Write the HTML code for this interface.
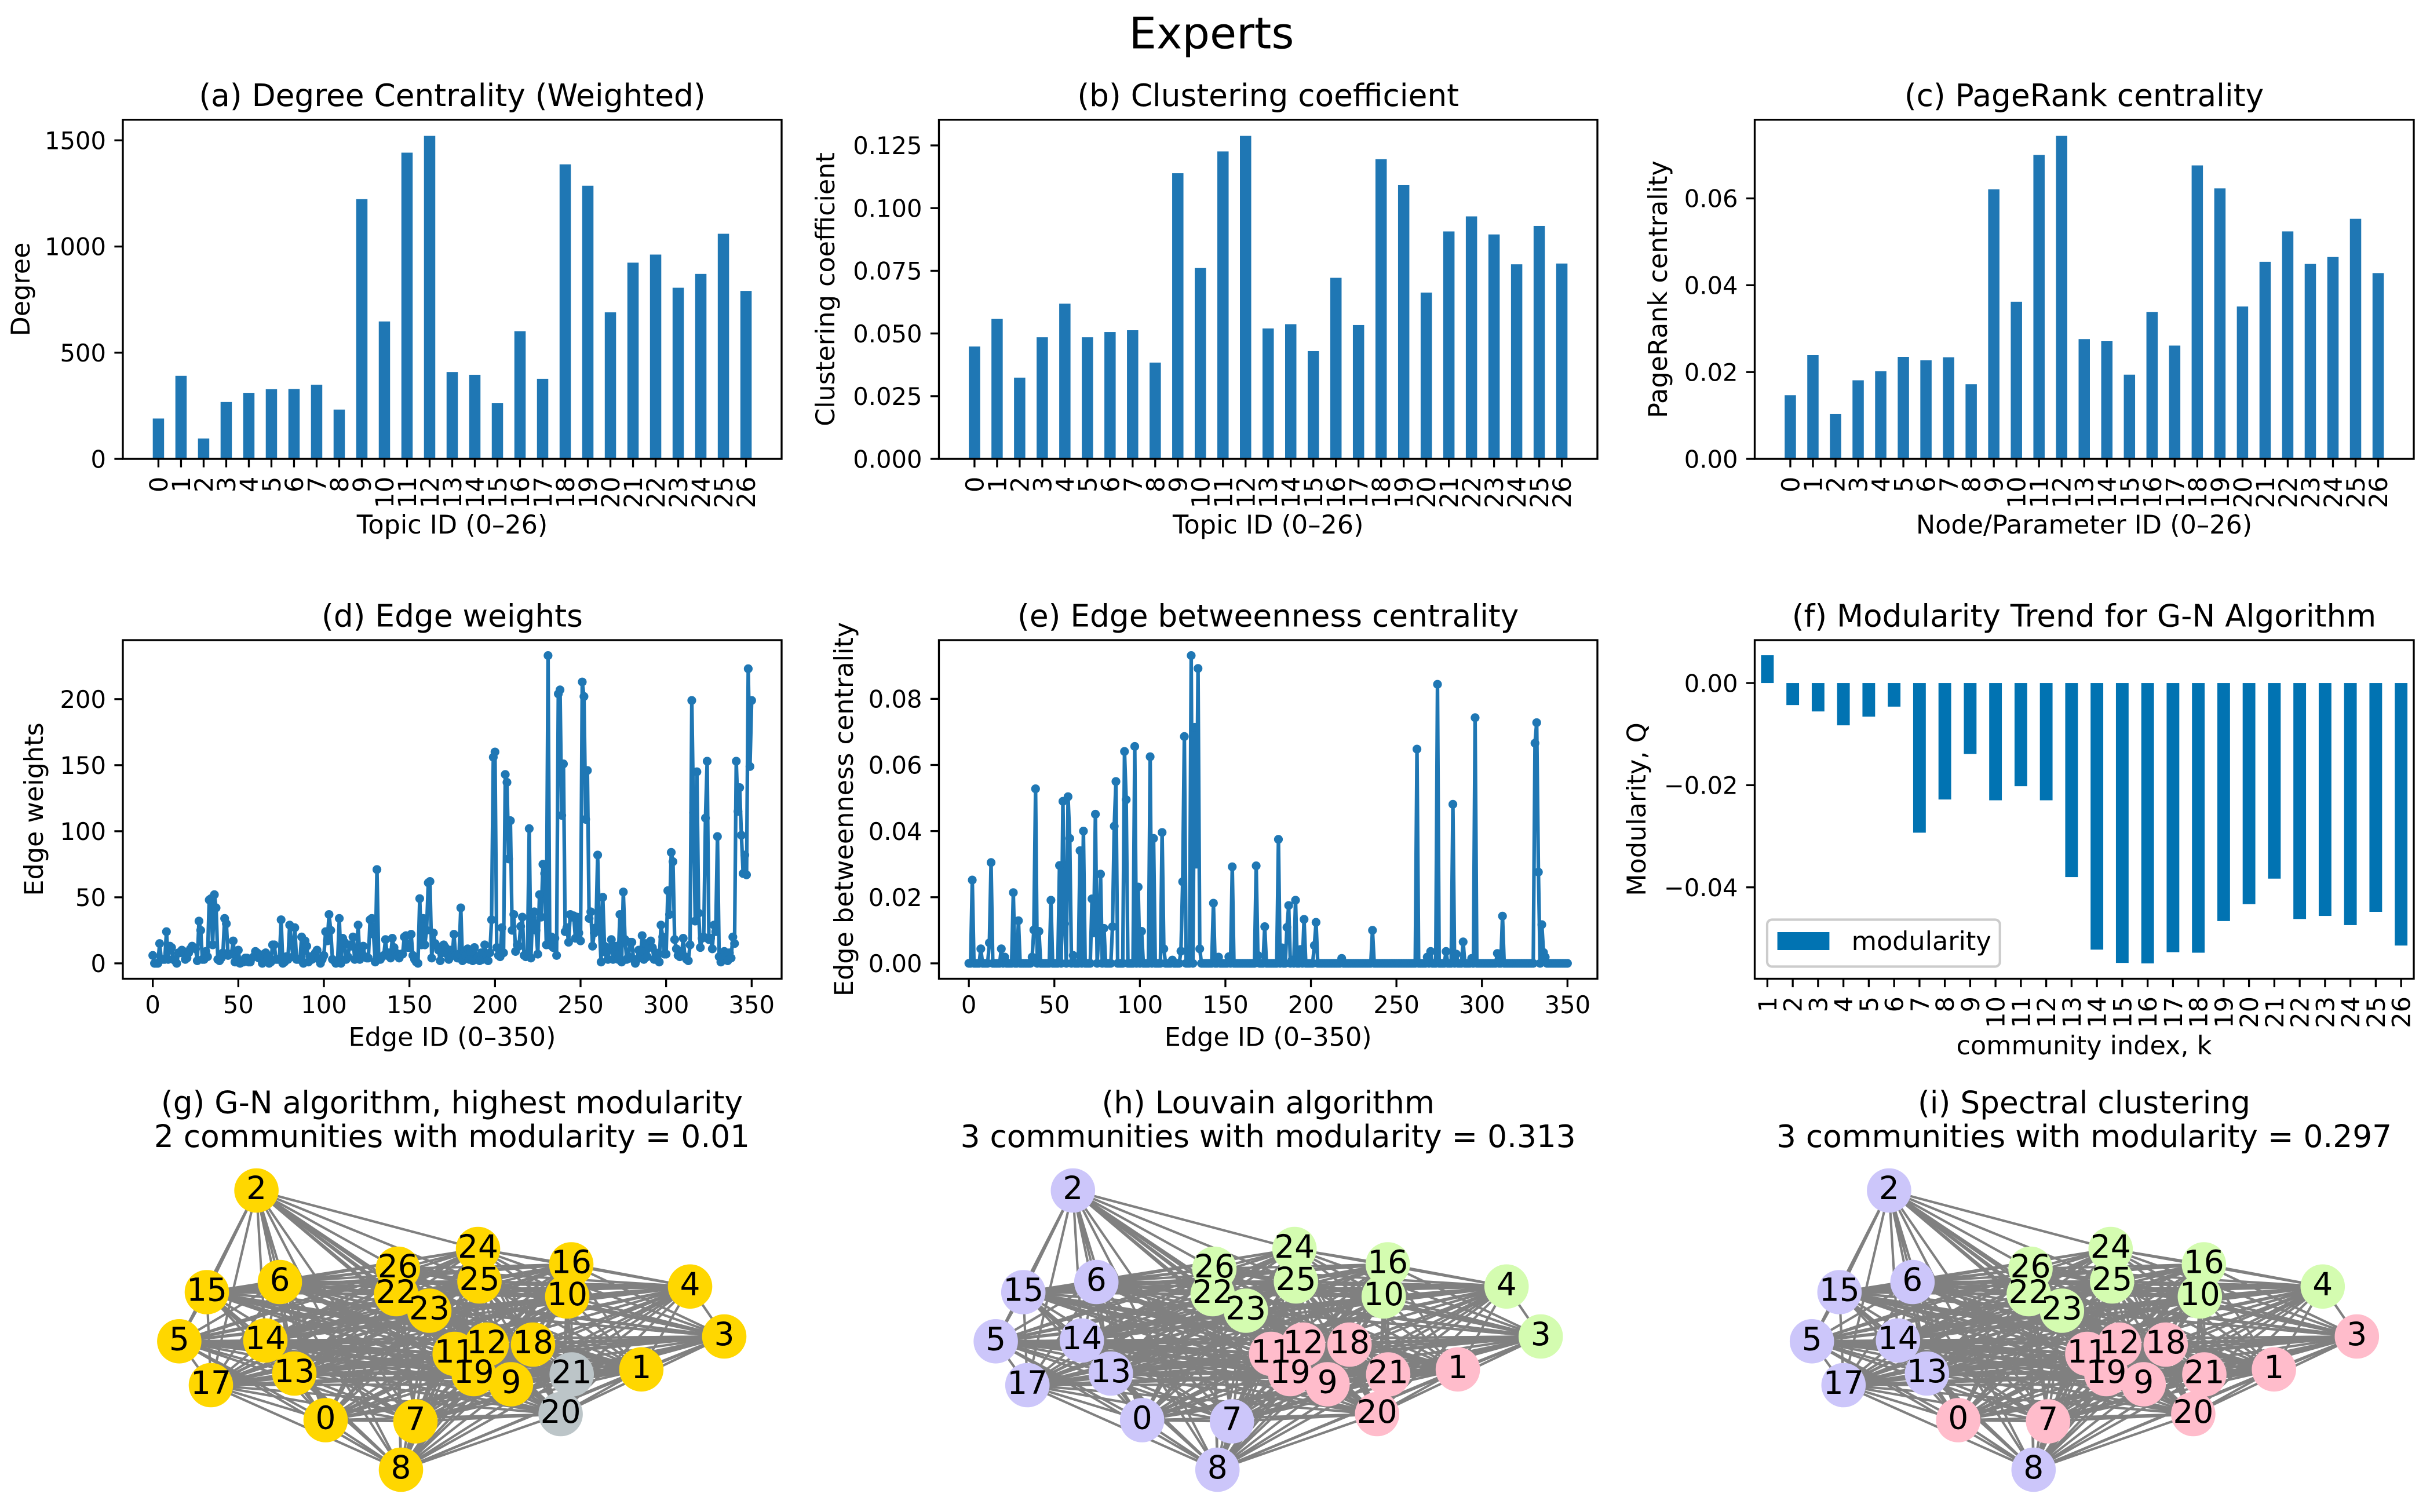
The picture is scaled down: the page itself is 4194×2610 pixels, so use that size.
<!DOCTYPE html>
<html lang="en">
<head>
<meta charset="utf-8">
<title>Experts</title>
<style>
html,body{margin:0;padding:0;background:#fff;width:4194px;height:2610px;overflow:hidden}
svg{display:block}
text{font-family:"DejaVu Sans","Liberation Sans",sans-serif;fill:#000}
.t{font-size:53.3px;text-anchor:middle}
.l{font-size:44.5px;text-anchor:middle}
.f{fill:none;stroke:#000;stroke-width:3.33}
</style>
</head>
<body>
<svg id="figure" xmlns="http://www.w3.org/2000/svg" width="4194" height="2610" viewBox="0 0 4194 2610">
<rect width="4194" height="2610" fill="#fff"/>
<text x="2091" y="83.6" style="font-size:75px;text-anchor:middle">Experts</text>

<g>
<text class="t" x="780.5" y="183">(a) Degree Centrality (Weighted)</text>
<g id="a-marks"></g>
<rect class="f" x="212" y="206.7" width="1137" height="585.4"/>
<g id="a-axes"></g>
<text class="l" x="780.5" y="921">Topic ID (0–26)</text>
<text class="l" transform="translate(51 499.5) rotate(-90)">Degree</text>
</g>

<g>
<text class="t" x="2188.7" y="183">(b) Clustering coefficient</text>
<g id="b-marks"></g>
<rect class="f" x="1620.5" y="206.7" width="1136.5" height="585.4"/>
<g id="b-axes"></g>
<text class="l" x="2188.7" y="921">Topic ID (0–26)</text>
<text class="l" transform="translate(1440 499.5) rotate(-90)">Clustering coefficient</text>
</g>

<g>
<text class="t" x="3597" y="183">(c) PageRank centrality</text>
<g id="c-marks"></g>
<rect class="f" x="3028.5" y="206.7" width="1137.5" height="585.4"/>
<g id="c-axes"></g>
<text class="l" x="3597" y="921">Node/Parameter ID (0–26)</text>
<text class="l" transform="translate(2877 499.5) rotate(-90)">PageRank centrality</text>
</g>

<g>
<text class="t" x="780.5" y="1081.5">(d) Edge weights</text>
<g id="d-marks"></g>
<rect class="f" x="212" y="1105" width="1137" height="584.5"/>
<g id="d-axes"></g>
<text class="l" x="780.5" y="1805.6">Edge ID (0–350)</text>
<text class="l" transform="translate(74 1397) rotate(-90)">Edge weights</text>
</g>

<g>
<text class="t" x="2188.7" y="1081.5">(e) Edge betweenness centrality</text>
<g id="e-marks"></g>
<rect class="f" x="1620.5" y="1105" width="1136.5" height="584.5"/>
<g id="e-axes"></g>
<text class="l" x="2188.7" y="1805.6">Edge ID (0–350)</text>
<text class="l" transform="translate(1472 1397) rotate(-90)">Edge betweenness centrality</text>
</g>

<g>
<text class="t" x="3597" y="1081.5">(f) Modularity Trend for G-N Algorithm</text>
<g id="f-marks"></g>
<rect class="f" x="3028.5" y="1105" width="1137.5" height="584.5"/>
<g id="f-axes"></g>
<text class="l" x="3597" y="1820">community index, k</text>
<text class="l" transform="translate(2840 1397) rotate(-90)">Modularity, Q</text>
<g>
<rect x="3050" y="1587.5" width="401.7" height="81" rx="8.3" fill="#fff" fill-opacity="0.8" stroke="#ccc" stroke-width="4.17"/>
<rect x="3067.6" y="1609" width="89.8" height="31" fill="#0173b2"/>
<text x="3195.6" y="1639.8" style="font-size:44.5px">modularity</text>
</g>
</g>

<g>
<text class="t" x="780" y="1921.7">(g) G-N algorithm, highest modularity</text>
<text class="t" x="780" y="1980">2 communities with modularity = 0.01</text>
<g id="g-marks"></g>
</g>
<g>
<text class="t" x="2188.7" y="1921.7">(h) Louvain algorithm</text>
<text class="t" x="2188.7" y="1980">3 communities with modularity = 0.313</text>
<g id="h-marks"></g>
</g>
<g>
<text class="t" x="3597" y="1921.7">(i) Spectral clustering</text>
<text class="t" x="3597" y="1980">3 communities with modularity = 0.297</text>
<g id="i-marks"></g>
</g>
</svg>

<script>
const topicIds = [0,1,2,3,4,5,6,7,8,9,10,11,12,13,14,15,16,17,18,19,20,21,22,23,24,25,26];
const degreeValues = [190,391,96,268,311,328,329,349,232,1223,647,1442,1521,409,396,262,601,377,1387,1286,690,924,962,806,871,1060,791];
const clusteringValues = [0.0448,0.0558,0.0324,0.0485,0.0619,0.0485,0.0506,0.0513,0.0384,0.1139,0.0761,0.1226,0.1288,0.0520,0.0537,0.0430,0.0722,0.0534,0.1195,0.1093,0.0663,0.0907,0.0967,0.0895,0.0776,0.0929,0.0779];
const pagerankValues = [0.01466,0.0239,0.0103,0.0181,0.0202,0.0235,0.0227,0.0234,0.0172,0.0621,0.0362,0.0700,0.0744,0.0276,0.0271,0.0194,0.0338,0.0261,0.0676,0.0623,0.0351,0.0454,0.0524,0.0449,0.0465,0.0553,0.0428];
const degreeTicks = [0,500,1000,1500];
const degreeTickLabels = ['0','500','1000','1500'];
const clusteringTicks = [0,0.025,0.05,0.075,0.1,0.125];
const clusteringTickLabels = ['0.000','0.025','0.050','0.075','0.100','0.125'];
const pagerankTicks = [0,0.02,0.04,0.06];
const pagerankTickLabels = ['0.00','0.02','0.04','0.06'];

const edgeWeightValues = [
6,0,0,0,15,3,3,3,24,3,
13,12,3,2,0,8,8,10,9,3,
4,8,11,13,12,11,2,32,25,3,
3,9,5,48,49,14,52,42,3,2,
4,8,34,30,6,7,7,17,1,1,
10,0,1,1,4,4,1,1,4,5,
9,8,4,6,0,7,8,5,0,1,
14,14,3,3,3,33,0,1,5,3,
29,15,5,27,3,3,3,20,0,17,
13,1,5,3,6,8,10,3,0,3,
6,24,17,37,25,3,2,0,1,34,
0,19,16,3,5,14,13,20,3,4,
29,3,12,13,5,4,4,33,34,22,
1,71,5,3,5,6,18,6,8,4,
19,12,8,6,4,7,7,20,21,12,
12,22,6,3,1,0,49,14,34,14,
25,61,62,4,23,15,13,10,2,8,
14,12,7,3,10,6,22,6,4,7,
42,2,8,6,11,3,9,2,12,3,
5,2,8,3,14,6,2,8,33,156,
160,12,6,5,27,8,143,137,79,108,
25,37,9,14,13,28,35,6,5,7,
102,4,38,39,25,7,52,35,75,68,
14,233,14,20,12,19,6,204,207,112,
151,24,27,16,37,35,36,19,35,23,
17,213,202,109,146,34,39,13,23,27,
82,28,1,50,13,8,3,12,18,3,
8,13,3,37,1,54,18,3,5,16,
16,3,0,3,10,5,21,3,15,5,
12,17,12,3,8,7,1,29,20,7,
7,55,37,84,77,18,11,6,5,6,
19,5,3,2,14,199,114,32,145,38,
12,19,20,110,153,18,19,11,29,24,
96,5,1,4,9,5,2,8,4,20,
15,153,115,133,97,68,82,67,223,149,
199];
const edgeBetweennessValues = [
0,0,.0252,0,0,0,0,.0044,0,0,
0,0,.0062,.0305,0,0,0,0,0,.0044,
0,.0019,0,0,0,0,.0214,0,0,.0129,
0,0,0,0,0,0,0,.0019,.0101,.0528,
0,.0097,0,0,0,0,0,0,.0191,0,
0,0,0,.0296,0,.049,.012,0,.0504,.0378,
0,.0024,0,0,0,.0341,0,.04,0,0,
0,0,.0195,.0092,.0451,0,.0092,.027,0,.0106,
0,0,0,0,.0111,.0415,.055,0,0,0,
0,.0641,.0495,0,0,0,0,.0656,0,.0231,
0,.0097,0,0,0,0,.0625,0,.0378,0,
0,0,0,.0396,.0044,0,0,0,0,.001,
0,0,0,0,.0037,.0247,.0686,0,0,0,
.0931,0,.0714,.03,.0892,.0044,0,0,0,0,
0,0,0,.0182,0,0,.0019,0,0,0,
0,0,.002,0,.0292,0,0,0,0,0,
0,0,0,0,0,0,0,0,.0295,.0024,
0,0,0,.0111,0,0,0,0,0,0,
0,.0375,0,.0047,0,0,.0109,.0175,0,.001,
0,.0191,0,0,.0042,0,.0133,0,0,0,
0,0,.0054,.0124,0,0,0,0,0,0,
0,0,0,0,0,0,0,0,.0015,0,
0,0,0,0,0,0,0,0,0,0,
0,0,0,0,0,0,.01,0,0,0,
0,0,0,0,0,0,0,0,0,0,
0,0,0,0,0,0,0,0,0,0,
0,0,.0648,0,0,0,0,0,.0019,0,
.0036,0,0,0,.0844,0,0,0,0,.0036,
0,0,0,.0481,0,.0028,0,0,0,.0065,
0,0,0,0,.0015,0,.0743,0,0,0,
0,0,0,0,0,0,0,0,0,.003,
0,0,.0143,0,0,0,0,0,0,0,
0,0,0,0,0,0,0,0,0,0,
0,.0666,.0728,.0276,0,.0117,.0033,.0019,0,0,
0,0,0,0,0,0,0,0,0,0,
0];
const edgeTicks = [0,50,100,150,200,250,300,350];
const edgeTickLabels = ['0','50','100','150','200','250','300','350'];
const weightTicks = [0,50,100,150,200];
const weightTickLabels = ['0','50','100','150','200'];
const betweennessTicks = [0,0.02,0.04,0.06,0.08];
const betweennessTickLabels = ['0.00','0.02','0.04','0.06','0.08'];

const communityIndex = [1,2,3,4,5,6,7,8,9,10,11,12,13,14,15,16,17,18,19,20,21,22,23,24,25,26];
const modularityValues = [0.00544,-0.00432,-0.00556,-0.00828,-0.00657,-0.00462,-0.0293,-0.0228,-0.0139,-0.02296,-0.0202,-0.02296,-0.0380,-0.0522,-0.0548,-0.0549,-0.0527,-0.0528,-0.0466,-0.0433,-0.0383,-0.0462,-0.0456,-0.0474,-0.0448,-0.0514];
const modularityTicks = [0,-0.02,-0.04];
const modularityTickLabels = ['0.00','\u22120.02','\u22120.04'];

/* network layout coordinates, and edges with no visible weight */
const layoutX = [362,906.9,242.6,1050,991,109.4,283,517,492,682,779,584.7,640,308,258,157,786,164,720,617.6,767.6,786.7,483.7,541,625,627.5,486.7];
const layoutY = [601.5,513.8,205,457,370.8,465.3,363,603.5,687,539.5,388,487,471,521,464,380.5,332.5,541,471,522,591,522.5,384,412.5,306,362,340];
const absentEdgeA = [2,2,2,2,2,2,2,2];
const absentEdgeB = [4,3,1,16,10,20,21,18];
const communitiesG = [0,0,0,0,0,0,0,0,0,0,0,0,0,0,0,0,0,0,0,0,1,1,0,0,0,0,0];
const communitiesH = [0,1,0,2,2,0,0,0,0,1,2,1,1,0,0,0,2,0,1,1,1,1,2,2,2,2,2];
const communitiesI = [1,1,0,1,2,0,0,1,0,1,2,1,1,0,0,0,2,0,1,1,1,1,2,2,2,2,2];
const paletteG = ['#ffd700','#bcc5c8'];
const paletteHI = ['#ccc6fa','#ffbccb','#d4fcb0'];

const NS = 'http://www.w3.org/2000/svg';
function mk(tag, parent, attrs) {
  const e = document.createElementNS(NS, tag);
  for (const k in attrs) e.setAttribute(k, attrs[k]);
  parent.appendChild(e);
  return e;
}
function linear(d0, d1, r0, r1) {
  return function (v) { return r0 + (v - d0) * (r1 - r0) / (d1 - d0); };
}
const TICK = 14.6, PAD = 29;

function drawYAxis(gAxes, left, yScale, ticks, labels) {
  ticks.forEach(function (t, i) {
    const y = yScale(t);
    const line = mk('line', gAxes, {x1: left - TICK, x2: left, y1: y, y2: y, stroke: '#000', 'stroke-width': 3.33});
    
    
    const txt = mk('text', gAxes, {x: left - PAD, y: y + 15.2, 'text-anchor': 'end', 'font-size': 41.67});
    txt.textContent = labels[i];
    
    
  });
}
function drawXAxisHorizontal(gAxes, bottom, xScale, ticks, labels) {
  ticks.forEach(function (t, i) {
    const x = xScale(t);
    const line = mk('line', gAxes, {x1: x, x2: x, y1: bottom, y2: bottom + TICK, stroke: '#000', 'stroke-width': 3.33});
    
    
    const txt = mk('text', gAxes, {x: x, y: bottom + PAD + 30.4, 'text-anchor': 'middle', 'font-size': 41.67});
    txt.textContent = labels[i];
    
    
  });
}
function drawXAxisRotated(gAxes, bottom, xScale, ticks) {
  ticks.forEach(function (t) {
    const x = xScale(t);
    const line = mk('line', gAxes, {x1: x, x2: x, y1: bottom, y2: bottom + TICK, stroke: '#000', 'stroke-width': 3.33});
    
    
    const bx = x + 15.5, by = bottom + PAD + 1.5;
    const txt = mk('text', gAxes, {x: bx, y: by, 'text-anchor': 'end', 'font-size': 43, transform: 'rotate(-90 ' + bx + ' ' + by + ')'});
    txt.textContent = String(t);
    
    
  });
}
function drawBars(id, cats, values, tickVals, tickLabs, left, right, color, x0, x1, y0, y1, top, bottom, width) {
  const gm = document.getElementById(id + '-marks');
  const ga = document.getElementById(id + '-axes');
  const xs = linear(x0, x1, left, right);
  const ys = linear(y0, y1, bottom, top);
  cats.forEach(function (c, i) {
    const ya = ys(values[i]), yb = ys(0);
    const cx = xs(i);
    const hw = (xs(width) - xs(0)) / 2;
    const bar = mk('rect', gm, {x: cx - hw, y: Math.min(ya, yb), width: 2 * hw, height: Math.abs(yb - ya), fill: color});
    
    
  });
  drawYAxis(ga, left, ys, tickVals, tickLabs);
  const tx = function (c) { return xs(cats.indexOf(c)); };
  drawXAxisRotated(ga, bottom, tx, cats);
}
function drawLine(id, values, tickVals, tickLabs, left, right, y0, y1, top, bottom) {
  const gm = document.getElementById(id + '-marks');
  const ga = document.getElementById(id + '-axes');
  const xs = linear(-17.5, 367.5, left, right);
  const ys = linear(y0, y1, bottom, top);
  const pts = values.map(function (v, i) { return xs(i).toFixed(1) + ',' + ys(v).toFixed(1); }).join(' ');
  const pl = mk('polyline', gm, {points: pts, fill: 'none', stroke: '#1f77b4', 'stroke-width': 6.25, 'stroke-linejoin': 'round', 'stroke-linecap': 'butt'});
  
  
  values.forEach(function (v, i) {
    const c = mk('circle', gm, {cx: xs(i), cy: ys(v), r: 7.6, fill: '#1f77b4'});
    
    
  });
  drawYAxis(ga, left, ys, tickVals, tickLabs);
  drawXAxisHorizontal(ga, bottom, xs, edgeTicks, edgeTickLabels);
}
function drawNetwork(id, offsetX, communities, palette) {
  const gm = document.getElementById(id + '-marks');
  const sx = function (v) { return v + offsetX; };
  const sy = function (v) { return v + 1850; };
  const isAbsent = function (a, b) {
    for (let k = 0; k < absentEdgeA.length; k++) {
      if ((absentEdgeA[k] === a && absentEdgeB[k] === b) || (absentEdgeA[k] === b && absentEdgeB[k] === a)) return true;
    }
    return false;
  };
  for (let a = 0; a < layoutX.length; a++) {
    for (let b = a + 1; b < layoutX.length; b++) {
      if (isAbsent(a, b)) continue;
      const ln = mk('line', gm, {x1: sx(layoutX[a]), y1: sy(layoutY[a]), x2: sx(layoutX[b]), y2: sy(layoutY[b]), stroke: '#808080', 'stroke-width': 4.17});
      
      
    }
  }
  layoutX.forEach(function (x, i) {
    const c = mk('circle', gm, {cx: sx(x), cy: sy(layoutY[i]), r: 38.3, fill: palette[communities[i]]});
    
    
  });
  layoutX.forEach(function (x, i) {
    const t = mk('text', gm, {x: sx(x), y: sy(layoutY[i]) + 15, 'text-anchor': 'middle', 'font-size': 55});
    t.textContent = String(i);
    
    
  });
}

const BT = 206.7, BB = 792.1, LT = 1105, LB = 1689.5;
drawBars('a', topicIds, degreeValues, degreeTicks, degreeTickLabels, 212, 1349, '#1f77b4', -1.575, 27.575, 0, 1597, BT, BB, 0.5);
drawBars('b', topicIds, clusteringValues, clusteringTicks, clusteringTickLabels, 1620.5, 2757, '#1f77b4', -1.575, 27.575, 0, 0.13524, BT, BB, 0.5);
drawBars('c', topicIds, pagerankValues, pagerankTicks, pagerankTickLabels, 3028.5, 4166, '#1f77b4', -1.575, 27.575, 0, 0.07812, BT, BB, 0.5);
drawLine('d', edgeWeightValues, weightTicks, weightTickLabels, 212, 1349, -11.65, 244.65, LT, LB);
drawLine('e', edgeBetweennessValues, betweennessTicks, betweennessTickLabels, 1620.5, 2757, -0.004655, 0.097755, LT, LB);
drawBars('f', communityIndex, modularityValues, modularityTicks, modularityTickLabels, 3028.5, 4166, '#0173b2', -0.5, 25.5, -0.0579, 0.0084, LT, LB, 0.5);
drawNetwork('g', 200, communitiesG, paletteG);
drawNetwork('h', 1609.2, communitiesH, paletteHI);
drawNetwork('i', 3017.8, communitiesI, paletteHI);
</script>
</body>
</html>
